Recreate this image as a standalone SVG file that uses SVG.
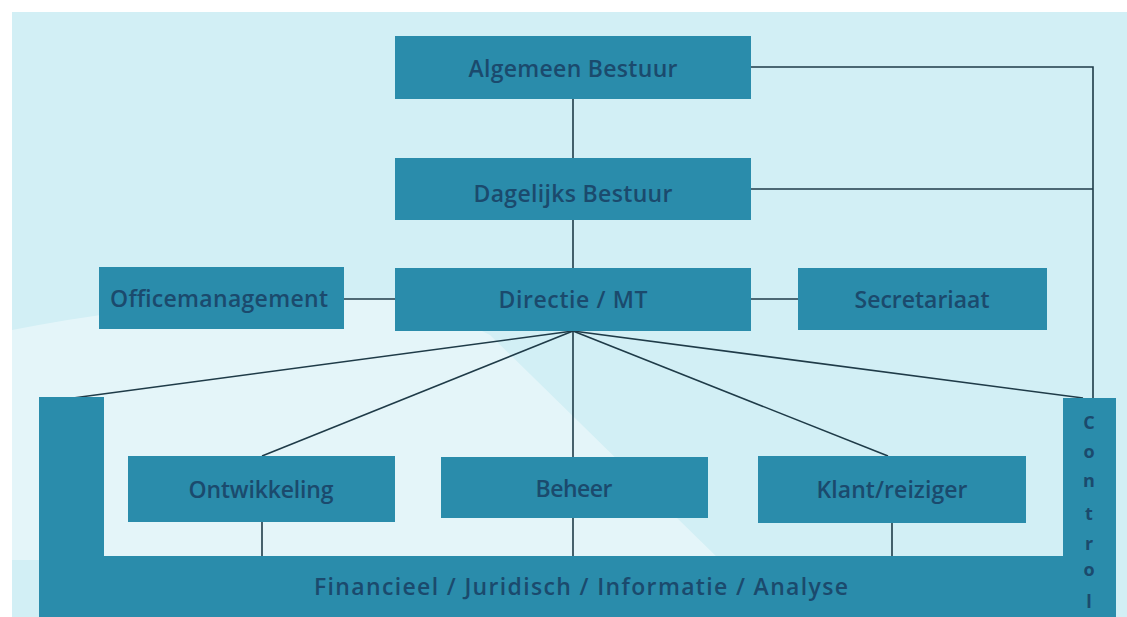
<svg xmlns="http://www.w3.org/2000/svg" width="1127" height="617" viewBox="0 0 1127 617">
<style>
.box{fill:#2a8cab;}
.lbl{font-family:"Open Sans","Liberation Sans",sans-serif;font-weight:600;font-size:23px;fill:#1b4a6d;text-anchor:middle;}
.ctl{font-family:"Open Sans","Liberation Sans",sans-serif;font-weight:700;font-size:18px;fill:#1b4a6d;text-anchor:middle;}
.ln{stroke:#1f3b48;stroke-width:1.6;fill:none;}
</style>
<rect x="0" y="0" width="1127" height="617" fill="#ffffff"/>
<rect x="12" y="12" width="1115" height="605" fill="#d2eff5"/>
<path d="M12,330 Q200,292 420,300 L490,335 L720,560 L12,560 Z" fill="#ffffff" opacity="0.4"/>
<g id="connectors" class="ln">
<line x1="573" y1="99" x2="573" y2="158"/>
<line x1="573" y1="220" x2="573" y2="268"/>
<polyline points="751,67 1093,67 1093,398"/>
<line x1="751" y1="189" x2="1093" y2="189"/>
<line x1="344" y1="299" x2="395" y2="299"/>
<line x1="751" y1="299" x2="798" y2="299"/>
<line x1="573" y1="331" x2="73" y2="398"/>
<line x1="573" y1="331" x2="262" y2="456"/>
<line x1="573" y1="331" x2="573" y2="457"/>
<line x1="573" y1="331" x2="888" y2="456"/>
<line x1="573" y1="331" x2="1083" y2="398"/>
<line x1="262" y1="522" x2="262" y2="556"/>
<line x1="573" y1="518" x2="573" y2="556"/>
<line x1="892" y1="523" x2="892" y2="556"/>
</g>
<g id="algemeen-bestuur"><rect class="box" x="395" y="36" width="356" height="63"/><text class="lbl" x="573" y="77" textLength="209" lengthAdjust="spacing">Algemeen Bestuur</text></g>
<g id="dagelijks-bestuur"><rect class="box" x="395" y="158" width="356" height="62"/><text class="lbl" x="573" y="202" textLength="199" lengthAdjust="spacing">Dagelijks Bestuur</text></g>
<g id="directie-mt"><rect class="box" x="395" y="268" width="356" height="63"/><text class="lbl" x="573" y="308" textLength="149" lengthAdjust="spacing">Directie / MT</text></g>
<g id="officemanagement"><rect class="box" x="99" y="267" width="245" height="62"/><text class="lbl" x="219" y="307" textLength="218" lengthAdjust="spacing">Officemanagement</text></g>
<g id="secretariaat"><rect class="box" x="798" y="268" width="249" height="62"/><text class="lbl" x="922" y="308" textLength="135" lengthAdjust="spacing">Secretariaat</text></g>
<g id="ondersteuning"><path class="box" d="M39,397 L104,397 L104,556 L1063,556 L1063,398 L1116,398 L1116,617 L39,617 Z"/><text class="lbl" x="581" y="595" textLength="534" lengthAdjust="spacing">Financieel  /  Juridisch  /  Informatie  /  Analyse</text>
<text class="ctl" x="1089" y="429">C</text><text class="ctl" x="1089" y="458">o</text><text class="ctl" x="1089" y="487">n</text><text class="ctl" x="1089" y="520">t</text><text class="ctl" x="1089" y="550">r</text><text class="ctl" x="1089" y="576">o</text><text class="ctl" x="1089" y="608">l</text></g>
<g id="ontwikkeling"><rect class="box" x="128" y="456" width="267" height="66"/><text class="lbl" x="261" y="498" textLength="145" lengthAdjust="spacing">Ontwikkeling</text></g>
<g id="beheer"><rect class="box" x="441" y="457" width="267" height="61"/><text class="lbl" x="574" y="497" textLength="77" lengthAdjust="spacing">Beheer</text></g>
<g id="klant-reiziger"><rect class="box" x="758" y="456" width="268" height="67"/><text class="lbl" x="892" y="498" textLength="151" lengthAdjust="spacing">Klant/reiziger</text></g>
</svg>
